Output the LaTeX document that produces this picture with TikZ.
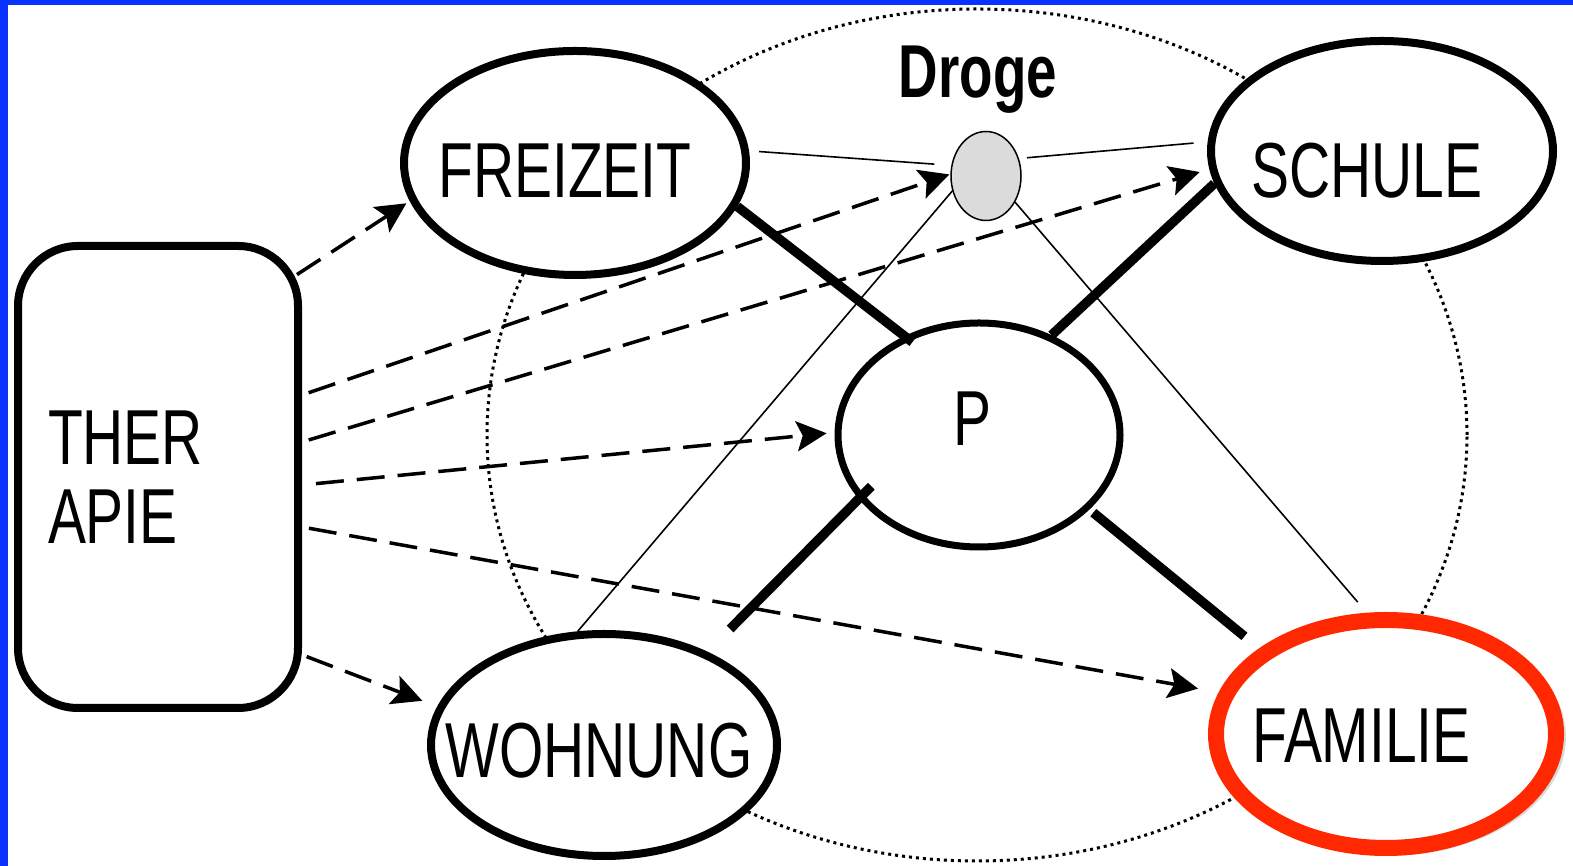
\documentclass[tikz,border=0pt]{standalone}
\usepackage{fontspec}
\newfontfamily\labelfont{Liberation Sans}[FakeStretch=0.73]
\usetikzlibrary{arrows.meta,shapes.geometric,shadows}
\definecolor{frameblue}{RGB}{10,50,255}
\definecolor{famred}{RGB}{255,40,0}

\begin{document}
\begin{tikzpicture}[x=1pt,y=1pt,>={Stealth[length=30pt,width=30pt,inset=6pt]},
  area/.style={ellipse,draw,line width=8pt,fill=white,inner sep=0pt},
  bond/.style={line width=9.5pt},
  link/.style={line width=1.6pt},
  effect/.style={->,line width=3.5pt,dash pattern=on 28pt off 13pt},
  every label/.style={font=\labelfont\fontsize{78}{78}\selectfont,inner sep=0pt}]
\useasboundingbox (0,0) rectangle (1573,866);
\fill[frameblue] (0,0) rectangle (8,866);
\fill[frameblue] (0,861) rectangle (1573,866);

\draw[line width=3pt,dash pattern=on 3pt off 4pt] (977,431) ellipse [x radius=490pt,y radius=426pt];

\node[draw,line width=8pt,rounded corners=60pt,minimum width=280pt,minimum height=462pt,
  text width=220pt,align=left,inner sep=0pt,font=\labelfont\fontsize{78}{79}\selectfont]
  (th) at (158,389) {THER\\APIE};

\node[area,minimum width=342pt,minimum height=224pt,
  label={[xshift=-10pt,yshift=-7.5pt]center:FREIZEIT}] (fz) at (575,703) {};
\node[area,minimum width=342pt,minimum height=220pt,
  label={[xshift=-15pt,yshift=-20pt]center:SCHULE}] (sc) at (1382,715) {};
\node[area,line width=7pt,minimum width=282pt,minimum height=224pt,
  label={[xshift=-7pt,yshift=16pt]center:P}] (p) at (979,431) {};
\node[area,minimum width=346pt,minimum height=222pt,
  label={[xshift=-5pt,yshift=-6pt]center:WOHNUNG}] (wh) at (604,121) {};
\node[area,draw=famred,line width=16pt,minimum width=340pt,minimum height=228pt,
  drop shadow={shadow xshift=3pt,shadow yshift=-3pt,shadow scale=1.04,opacity=0.3},
  label={[xshift=-24.5pt,yshift=-2pt]center:FAMILIE}] (fm) at (1386,132) {};
\node[ellipse,draw,line width=1.5pt,fill=black!14,minimum width=70pt,minimum height=89pt,
  label={[label distance=17pt,xshift=-8pt,font=\labelfont\bfseries\fontsize{75}{75}\selectfont]above:Droge}]
  (drg) at (986,690) {};

\draw[link,shorten <=10pt,shorten >=17pt] (fz.4) -- (drg.163);
\draw[link,shorten <=8pt,shorten >=14pt] (drg.28) -- (sc.177);
\draw[link] (wh.103) -- (drg.204);
\draw[link,shorten >=14pt] (drg.-42) -- (fm.99);

\draw[bond,shorten >=-10pt] (fz.-15) -- (p.127);
\draw[bond] (sc.191) -- (p.54);
\draw[bond,shorten <=-18pt,shorten >=32pt] (p.208) -- (wh.42);
\draw[bond,shorten <=5pt,shorten >=19pt] (p.-34) -- (fm.146);

\draw[effect,shorten <=-6pt,shorten >=4pt] (th.55) -- (fz.193);
\draw[effect,shorten <=7pt,shorten >=1pt] ([yshift=82pt]th.east) -- (drg.177);
\draw[effect,shorten <=7pt,shorten >=10pt] ([yshift=35pt]th.east) -- (sc.186);
\draw[effect,shorten <=14pt,shorten >=8pt] ([yshift=-8pt]th.east) -- (p.179);
\draw[effect,shorten <=7pt,shorten >=21pt] ([yshift=-50pt]th.east) -- (fm.166);
\draw[effect,shorten <=5pt,shorten >=16pt] (th.-51) -- (wh.167);
\end{tikzpicture}
\end{document}
